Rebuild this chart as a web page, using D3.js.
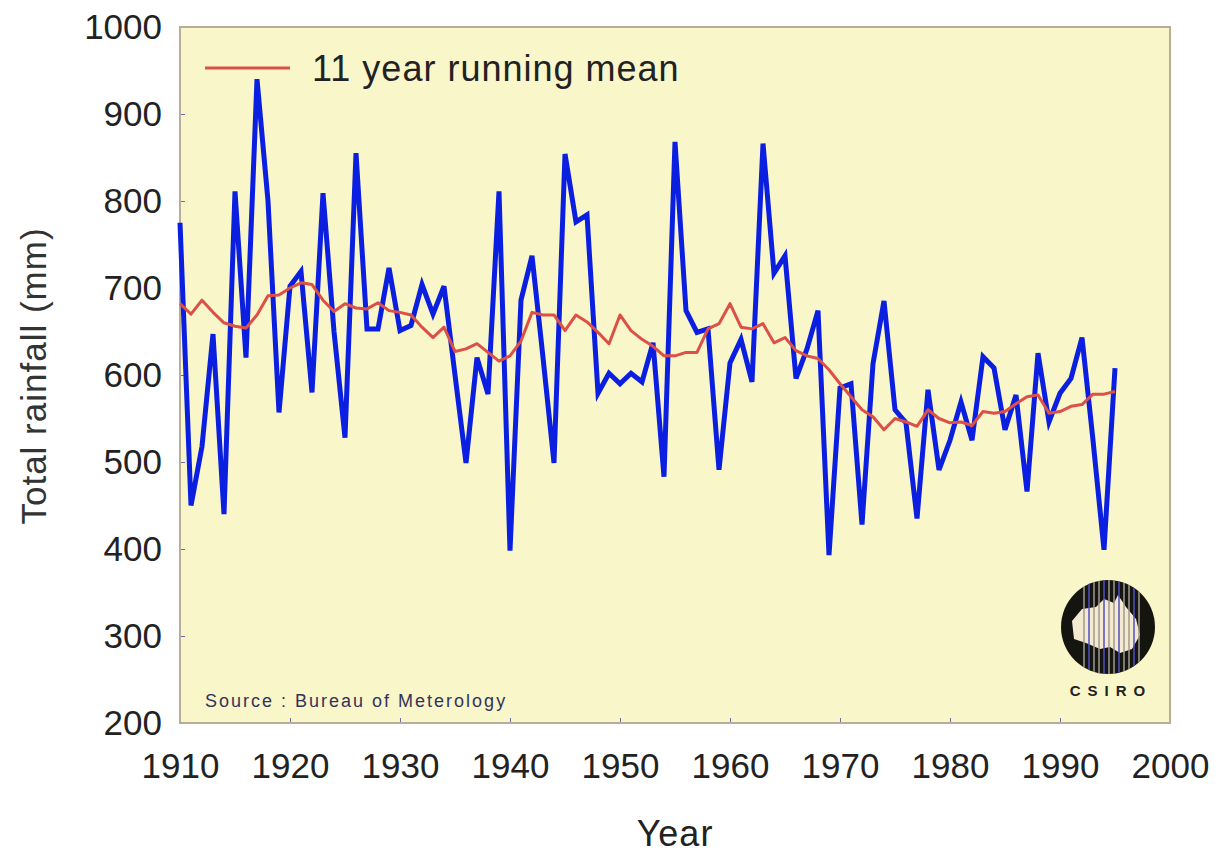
<!DOCTYPE html>
<html>
<head>
  <meta charset="UTF-8">
  <style>
    body { margin: 0; background: #fff; }
    svg { font-family: "Liberation Sans", Arial, Helvetica, sans-serif; }
    .tick text { fill: #222; font-size: 35px; }
    .tick line { stroke: #6a6aa8; }
  </style>
</head>
<body>
<svg></svg>
<script src="https://d3js.org/d3.v7.min.js"></script>
<script>

let width = 1222, height = 854;

// annual totals, 1910 - 1995
const years = d3.range(1910, 1996);
const rainfall = [
  775, 450, 518, 647, 440, 811, 620, 940, 800, 557,
  702, 719, 580, 809, 650, 528, 855, 653, 653, 723,
  651, 657, 704, 670, 702, 600, 499, 620, 578, 811,
  398, 686, 737, 620, 499, 854, 776, 784, 579, 602,
  590, 602, 592, 637, 483, 868, 674, 649, 653, 491,
  614, 641, 592, 866, 717, 737, 596, 630, 674, 393,
  585, 590, 428, 613, 685, 560, 545, 435, 583, 491,
  525, 569, 525, 621, 608, 537, 577, 466, 625, 546,
  579, 596, 643, 525, 399, 608
];
// 11 year running mean as drawn
const runningMean = [
  682, 670, 686, 672, 660, 656, 654, 669, 691, 692,
  700, 706, 704, 686, 673, 682, 677, 676, 683, 674,
  672, 669, 655, 643, 655, 627, 630, 636, 626, 616,
  622, 639, 672, 669, 669, 651, 669, 661, 649, 636,
  669, 651, 641, 633, 622, 622, 626, 626, 653, 659,
  682, 655, 653, 659, 637, 643, 628, 622, 619, 606,
  590, 575, 560, 552, 537, 550, 546, 541, 560, 550,
  545, 546, 542, 558, 556, 558, 567, 575, 577, 556,
  558, 564, 566, 578, 578, 581
];
const xTicks = d3.range(1910, 2001, 10);
const yTicks = d3.range(200, 1001, 100);

const margin = {left: 180, top: 27, right: 52, bottom: 131};
const pw = width - margin.left - margin.right;
const ph = height - margin.top - margin.bottom;

let svg = d3.select("svg")
    .attr("width", width)
    .attr("height", height);

let x = d3.scaleLinear().domain([1910, 2000]).range([0, pw]);
let y = d3.scaleLinear().domain([200, 1000]).range([ph, 0]);

let g = svg.append("g")
    .attr("transform", `translate(${margin.left},${margin.top})`);

// plot background
g.append("rect")
    .attr("width", pw)
    .attr("height", ph)
    .attr("fill", "#f9f6ca");

// axes, ticks pointing inward
g.append("g")
    .attr("transform", `translate(0,${ph})`)
    .call(d3.axisBottom(x).tickValues(xTicks).tickFormat(d3.format("d")).tickSize(-5).tickPadding(30))
    .call(a => a.select(".domain").remove());

g.append("g")
    .call(d3.axisLeft(y).tickValues(yTicks).tickFormat(d3.format("d")).tickSize(-5).tickPadding(18))
    .call(a => a.select(".domain").remove());

// frame
g.append("rect")
    .attr("width", pw)
    .attr("height", ph)
    .attr("fill", "none")
    .attr("stroke", "#b9ad98")
    .attr("stroke-width", 2);

let line = d3.line()
    .x((d, i) => x(years[i]))
    .y(d => y(d));

g.append("path")
    .datum(rainfall)
    .attr("fill", "none")
    .attr("stroke", "#0b1fe0")
    .attr("stroke-width", 5)
    .attr("stroke-linejoin", "miter")
    .attr("d", line);

g.append("path")
    .datum(runningMean)
    .attr("fill", "none")
    .attr("stroke", "#dc5048")
    .attr("stroke-width", 3)
    .attr("stroke-linejoin", "round")
    .attr("d", line);

// legend
g.append("line")
    .attr("x1", 25).attr("x2", 110)
    .attr("y1", 41).attr("y2", 41)
    .attr("stroke", "#dc5048")
    .attr("stroke-width", 3);

g.append("text")
    .attr("x", 132)
    .attr("y", 54)
    .attr("font-size", 36)
    .attr("letter-spacing", 1)
    .attr("fill", "#222")
    .text("11 year running mean");

// source note
g.append("text")
    .attr("x", 25)
    .attr("y", ph - 16)
    .attr("font-size", 18)
    .attr("letter-spacing", 2)
    .attr("fill", "#33335a")
    .text("Source : Bureau of Meterology");

// CSIRO mark
let logo = g.append("g").attr("transform", `translate(${pw - 62},${ph - 96})`);
logo.append("clipPath").attr("id", "disc")
    .append("circle").attr("r", 47);
logo.append("circle").attr("r", 47).attr("fill", "#151510");
logo.append("path")
    .attr("clip-path", "url(#disc)")
    .attr("d", "M-36,-6 L-26,-18 L-12,-20 L-4,-28 L6,-24 L10,-32 L18,-20 L28,-8 L32,8 L24,22 L12,26 L2,20 L-8,22 L-22,16 L-34,12 Z")
    .attr("fill", "#f4ead0");
logo.selectAll("line.stripe")
    .data(d3.range(-24, 34, 5))
    .enter()
    .append("line")
    .attr("clip-path", "url(#disc)")
    .attr("x1", d => d).attr("x2", d => d)
    .attr("y1", -47).attr("y2", 47)
    .attr("stroke", (d, i) => i % 3 == 1 ? "#5050c0" : "#a09a90")
    .attr("stroke-width", 1.5);
logo.append("text")
    .attr("y", 69)
    .attr("x", 3)
    .attr("text-anchor", "middle")
    .attr("font-size", 15)
    .attr("font-weight", "bold")
    .attr("letter-spacing", 7)
    .attr("fill", "#222")
    .text("CSIRO");

// axis titles
svg.append("text")
    .attr("x", margin.left + pw / 2)
    .attr("y", 846)
    .attr("text-anchor", "middle")
    .attr("font-size", 36)
    .attr("letter-spacing", 1)
    .attr("fill", "#222")
    .text("Year");

svg.append("text")
    .attr("transform", "translate(46,376) rotate(-90)")
    .attr("text-anchor", "middle")
    .attr("font-size", 35)
    .attr("letter-spacing", 1)
    .attr("fill", "#333")
    .text("Total rainfall (mm)");

</script>
</body>
</html>
